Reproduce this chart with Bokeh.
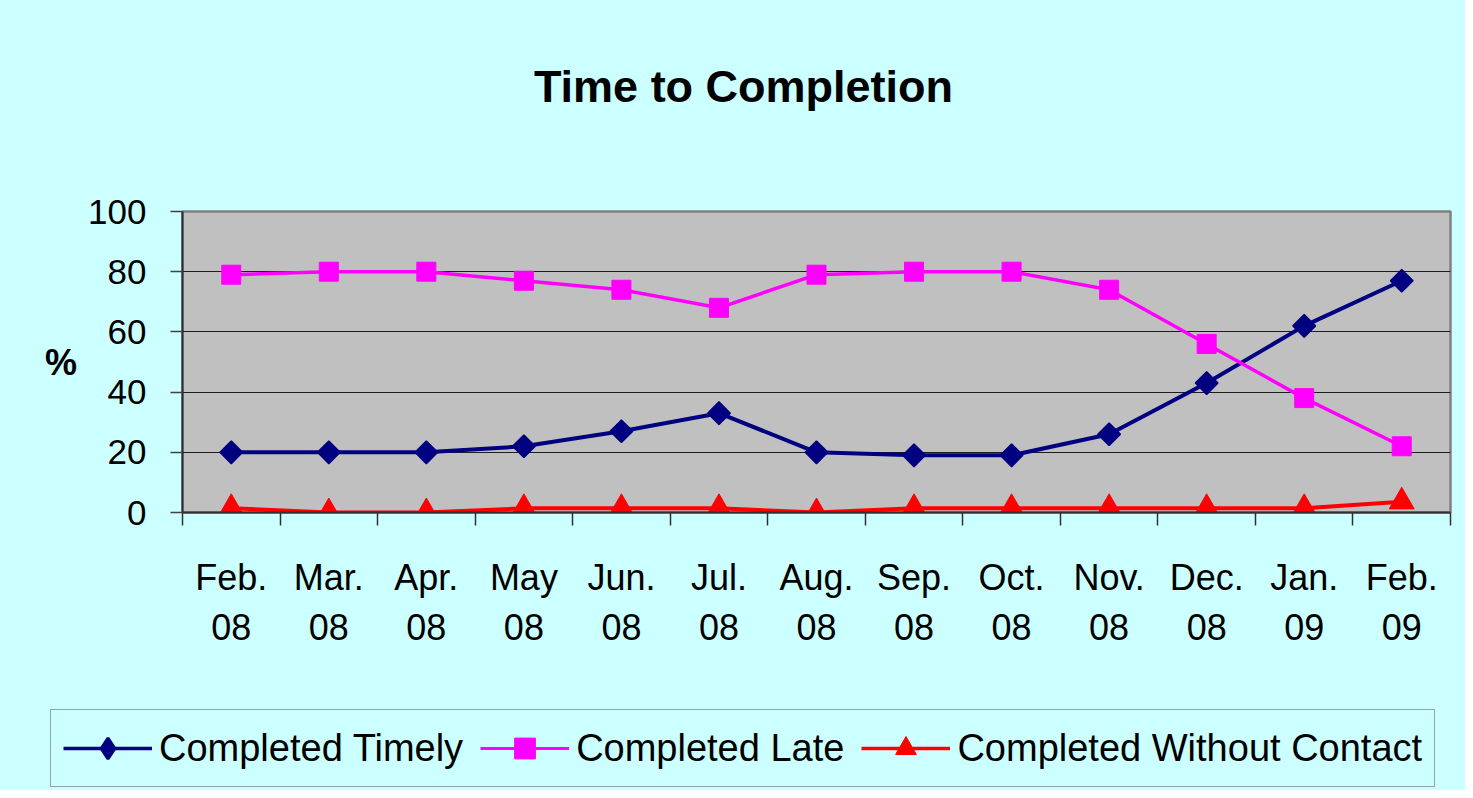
import math
from bokeh.plotting import figure
from bokeh.layouts import column
from bokeh.models import Range1d, FixedTicker, LinearAxis, Legend, LegendItem, Label
from bokeh.embed import file_html
from bokeh.resources import INLINE

# ---- data ----
months = ["Feb.", "Mar.", "Apr.", "May", "Jun.", "Jul.", "Aug.", "Sep.", "Oct.", "Nov.", "Dec.", "Jan.", "Feb."]
years = ["08", "08", "08", "08", "08", "08", "08", "08", "08", "08", "08", "09", "09"]
completed_timely = [20, 20, 20, 22, 27, 33, 20, 19, 19, 26, 43, 62, 77]
completed_late = [79, 80, 80, 77, 74, 68, 79, 80, 80, 74, 56, 38, 22]
completed_without_contact = [1.4, 0, 0, 1.4, 1.4, 1.4, 0, 1.4, 1.4, 1.4, 1.4, 1.4, 3.6]
y_ticks = [0, 20, 40, 60, 80, 100]
series_names = ["Completed Timely", "Completed Late", "Completed Without Contact"]
title_text = "Time to Completion"

x = list(range(len(months)))
series = [completed_timely, completed_late, completed_without_contact]
FONT = "Liberation Sans"
CYAN = "#CCFFFF"
W = 1465
H_TOP, H_MAIN, H_LEG = 130, 530, 130

# styles per series (main chart marker, legend marker)
styles = [
    dict(color="#000080", lw=4, marker="square", angle=math.pi / 4, size=16, mlw=1.5,
         leg_marker="diamond", leg_mlw=3),
    dict(color="#FF00FF", lw=3.5, marker="square", angle=0.0, size=19, mlw=1,
         leg_marker="square", leg_mlw=1),
    dict(color="#FF0000", lw=4, marker="triangle", angle=0.0, size=25, mlw=1,
         leg_marker="triangle", leg_mlw=1),
]


def no_align(f):
    if "frame_align" in f.properties():
        f.frame_align = False
    return f


def blank_fig(h):
    f = figure(width=W, height=h, x_range=Range1d(0, W), y_range=Range1d(0, h),
               output_backend="svg", toolbar_location=None,
               min_border=0, min_border_left=0, min_border_right=0,
               min_border_top=0, min_border_bottom=0,
               x_axis_location=None, y_axis_location=None,
               background_fill_color=CYAN, border_fill_color=CYAN)
    f.outline_line_color = None
    f.grid.visible = False
    return no_align(f)


# ---- title strip ----
p_top = blank_fig(H_TOP)
p_top.add_layout(Label(x=743, y=H_TOP - 86, text=title_text, text_align="center",
                       text_baseline="alphabetic", text_font=FONT, text_font_size="45px",
                       text_font_style="bold", text_color="black"))

# ---- main chart ----
p = figure(width=W, height=H_MAIN,
           x_range=Range1d(-0.5, len(months) - 0.5), y_range=Range1d(0, 100),
           output_backend="svg", toolbar_location=None,
           min_border_left=182, min_border_right=W - 1450, min_border_top=211 - H_TOP,
           min_border_bottom=H_MAIN - (512 - H_TOP),
           background_fill_color="#C0C0C0", border_fill_color=CYAN,
           x_axis_location=None)
no_align(p)
p.outline_line_color = "#808080"
p.outline_line_width = 2.5

ya = p.yaxis[0]
ya.ticker = FixedTicker(ticks=y_ticks)
ya.major_tick_out = 12
ya.major_tick_in = 0
ya.minor_tick_line_color = None
ya.major_tick_line_color = "#404040"
ya.major_tick_line_width = 1.5
ya.axis_line_color = "#303030"
ya.axis_line_width = 2
ya.major_label_text_font = FONT
ya.major_label_text_font_size = "35px"
ya.major_label_text_color = "black"
ya.major_label_standoff = 24
ya.axis_label = "%"
ya.axis_label_text_font = FONT
ya.axis_label_text_font_size = "36px"
ya.axis_label_text_font_style = "bold"
ya.axis_label_text_color = "black"
ya.axis_label_standoff = 8
if "axis_label_orientation" in ya.properties():
    ya.axis_label_orientation = "horizontal"

p.xgrid.visible = False
p.ygrid.grid_line_color = "black"
p.ygrid.grid_line_width = 1
p.ygrid.grid_line_alpha = 0.85

ax1 = LinearAxis(ticker=FixedTicker(ticks=x, minor_ticks=[i - 0.5 for i in range(len(months) + 1)]),
                 major_label_overrides={i: m for i, m in zip(x, months)})
ax1.major_tick_out = 0
ax1.major_tick_in = 0
ax1.major_tick_line_color = None
ax1.minor_tick_out = 13
ax1.minor_tick_in = 0
ax1.minor_tick_line_color = "#303030"
ax1.minor_tick_line_width = 1.5
ax1.axis_line_color = "#303030"
ax1.axis_line_width = 2
ax1.major_label_text_font = FONT
ax1.major_label_text_font_size = "36px"
ax1.major_label_text_color = "black"
ax1.major_label_standoff = 31
p.add_layout(ax1, "below")

ax2 = LinearAxis(ticker=FixedTicker(ticks=x, minor_ticks=[]),
                 major_label_overrides={i: yv for i, yv in zip(x, years)})
ax2.axis_line_color = None
ax2.major_tick_line_color = None
ax2.minor_tick_line_color = None
ax2.major_tick_out = 0
ax2.major_tick_in = 0
ax2.major_label_text_font = FONT
ax2.major_label_text_font_size = "36px"
ax2.major_label_text_color = "black"
ax2.major_label_standoff = 13
p.add_layout(ax2, "below")

for vals, st in zip(series, styles):
    p.line(x, vals, line_color=st["color"], line_width=st["lw"])
    p.scatter(x, vals, marker=st["marker"], angle=st["angle"], size=st["size"],
              fill_color=st["color"], line_color=st["color"], line_width=st["mlw"])

# ---- legend strip (hidden copies of the series feed the legend glyphs) ----
p_leg = blank_fig(H_LEG)
items = []
for name, vals, st in zip(series_names, series, styles):
    lr = p_leg.line(x, vals, line_color=st["color"], line_width=st["lw"] - 0.5, visible=False)
    sr = p_leg.scatter(x, vals, marker=st["leg_marker"], size=st["size"],
                       fill_color=st["color"], line_color=st["color"], line_width=st["leg_mlw"],
                       visible=False)
    items.append(LegendItem(label=name, renderers=[lr, sr]))
legend = Legend(items=items, orientation="horizontal", location=(50, 3))
legend.label_text_font = FONT
legend.label_text_font_size = "38px"
legend.label_text_color = "black"
legend.glyph_width = 89
legend.glyph_height = 52
legend.label_standoff = 7
legend.spacing = 17
legend.padding = 12
legend.margin = 0
legend.border_line_color = "#505050"
legend.border_line_width = 1.5
legend.background_fill_color = CYAN
legend.background_fill_alpha = 1
if "inactive_fill_alpha" in legend.properties():
    legend.inactive_fill_alpha = 0.0
p_leg.add_layout(legend, "center")

layout = column(p_top, p, p_leg, spacing=0)
layout.styles = {"background-color": CYAN}
open("out.html", "w").write(file_html(layout, INLINE))
